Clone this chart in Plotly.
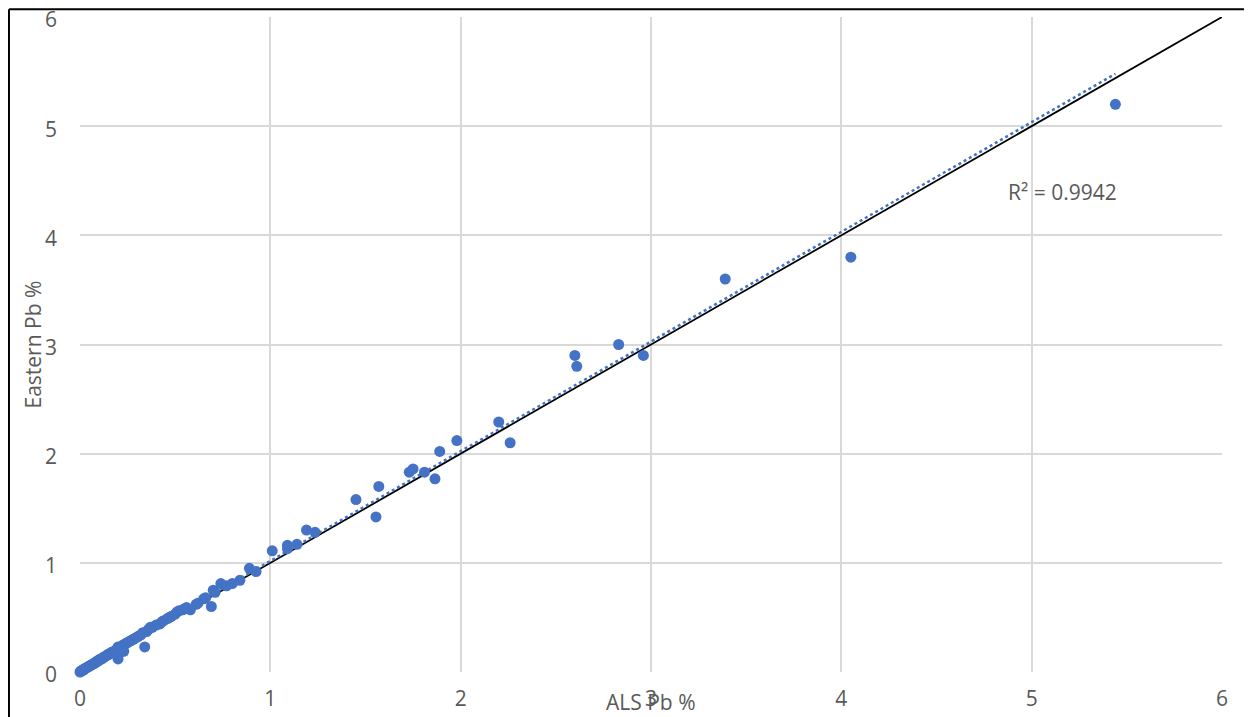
import plotly.graph_objects as go

# ALS Pb % (x) vs Eastern Pb % (y)
als_pb = [0.00, 0.005, 0.01, 0.012, 0.015, 0.02, 0.022, 0.025, 0.03, 0.035,
          0.04, 0.045, 0.05, 0.055, 0.06, 0.065, 0.07, 0.075, 0.08, 0.085,
          0.09, 0.095, 0.10, 0.105, 0.11, 0.115, 0.12, 0.125, 0.13, 0.14,
          0.145, 0.15, 0.16, 0.165, 0.17, 0.18, 0.19, 0.195, 0.20, 0.20,
          0.21, 0.21, 0.22, 0.23, 0.23, 0.24, 0.25, 0.26, 0.27, 0.28,
          0.29, 0.30, 0.31, 0.32, 0.33, 0.34, 0.35, 0.36, 0.37, 0.38,
          0.40, 0.42, 0.43, 0.44, 0.46, 0.47, 0.48, 0.50, 0.51, 0.52,
          0.54, 0.55, 0.56, 0.58, 0.61, 0.62, 0.65, 0.66, 0.69, 0.70,
          0.71, 0.74, 0.77, 0.80, 0.84, 0.89, 0.925, 1.01, 1.09, 1.09,
          1.14, 1.19, 1.235, 1.45, 1.555, 1.57, 1.73, 1.75, 1.81, 1.865,
          1.89, 1.98, 2.20, 2.26, 2.60, 2.61, 2.83, 2.96, 3.39, 4.05,
          5.44]
eastern_pb = [0.00, 0.01, 0.01, 0.015, 0.02, 0.02, 0.025, 0.03, 0.035, 0.04,
              0.045, 0.05, 0.055, 0.06, 0.065, 0.07, 0.075, 0.08, 0.085, 0.09,
              0.10, 0.10, 0.11, 0.115, 0.12, 0.12, 0.13, 0.135, 0.14, 0.15,
              0.16, 0.16, 0.17, 0.18, 0.18, 0.19, 0.20, 0.21, 0.23, 0.12,
              0.22, 0.18, 0.24, 0.19, 0.25, 0.26, 0.27, 0.28, 0.29, 0.30,
              0.31, 0.32, 0.33, 0.34, 0.36, 0.23, 0.37, 0.39, 0.41, 0.41,
              0.43, 0.44, 0.46, 0.47, 0.49, 0.50, 0.51, 0.53, 0.55, 0.56,
              0.57, 0.58, 0.59, 0.57, 0.62, 0.63, 0.67, 0.68, 0.60, 0.75,
              0.73, 0.81, 0.79, 0.81, 0.84, 0.95, 0.92, 1.11, 1.16, 1.13,
              1.17, 1.30, 1.28, 1.58, 1.42, 1.70, 1.83, 1.86, 1.83, 1.77,
              2.02, 2.12, 2.29, 2.10, 2.90, 2.80, 3.00, 2.90, 3.60, 3.80,
              5.20]

# 1:1 reference line
ref_x = [0, 6]
ref_y = [0, 6]

# Linear trendline
trend_slope = 1.005
trend_intercept = 0.012
r2_label = "R² = 0.9942"

x_ticks = [0, 1, 2, 3, 4, 5, 6]
y_ticks = [0, 1, 2, 3, 4, 5, 6]

blue = "#4472C4"
grey_text = "#595959"
grid = "#D9D9D9"

trend_x = [min(als_pb), max(als_pb)]
trend_y = [trend_slope * v + trend_intercept for v in trend_x]

fig = go.Figure()
fig.add_trace(go.Scatter(x=ref_x, y=ref_y, mode="lines",
                         line=dict(color="black", width=1.8),
                         showlegend=False, hoverinfo="skip", cliponaxis=False))
fig.add_trace(go.Scatter(x=als_pb, y=eastern_pb, mode="markers",
                         marker=dict(color=blue, size=11, line=dict(width=0)),
                         showlegend=False, cliponaxis=False))
fig.add_trace(go.Scatter(x=trend_x, y=trend_y, mode="lines",
                         line=dict(color=blue, width=2.5, dash="dot"),
                         showlegend=False, hoverinfo="skip"))

font = dict(family="'Open Sans', sans-serif", size=21, color=grey_text)

# page body adds an 8px margin, so the figure is sized to fit the window
fig.update_layout(
    width=1244, height=709,
    margin=dict(l=72, r=30, t=9, b=45, autoexpand=False),
    paper_bgcolor="white", plot_bgcolor="white",
    font=font,
    xaxis=dict(range=[0, 6], tickvals=x_ticks, showgrid=True, gridcolor=grid,
               gridwidth=1.5, zeroline=False, showline=False, automargin=False,
               ticks="", ticklabelstandoff=12, tickfont=font,
               ticklabeloverflow="allow"),
    yaxis=dict(range=[0, 6], tickvals=y_ticks, showgrid=True, gridcolor=grid,
               gridwidth=1.5, zeroline=False, showline=False, automargin=False,
               ticks="", ticklabelstandoff=22, tickfont=font,
               ticklabeloverflow="allow", ticklabelshift=3),
    annotations=[
        dict(text="ALS Pb %", x=3, xref="x", y=-0.046, yref="paper",
             xanchor="center", yanchor="middle", showarrow=False, font=font),
        dict(text="Eastern Pb %", x=-0.042, xref="paper", y=3, yref="y",
             textangle=-90, xanchor="center", yanchor="middle",
             showarrow=False, font=font),
        dict(text=r2_label, x=5.16, xref="x", y=4.40, yref="y",
             xanchor="center", yanchor="middle", showarrow=False, font=font),
    ],
    shapes=[
        dict(type="line", xref="paper", yref="paper", x0=-0.0622, x1=-0.0622,
             y0=-0.1, y1=1.012, line=dict(color="black", width=2)),
        dict(type="line", xref="paper", yref="paper", x0=-0.0622, x1=1.03,
             y0=1.012, y1=1.012, line=dict(color="black", width=2)),
    ],
)

fig.write_html("out.html")
